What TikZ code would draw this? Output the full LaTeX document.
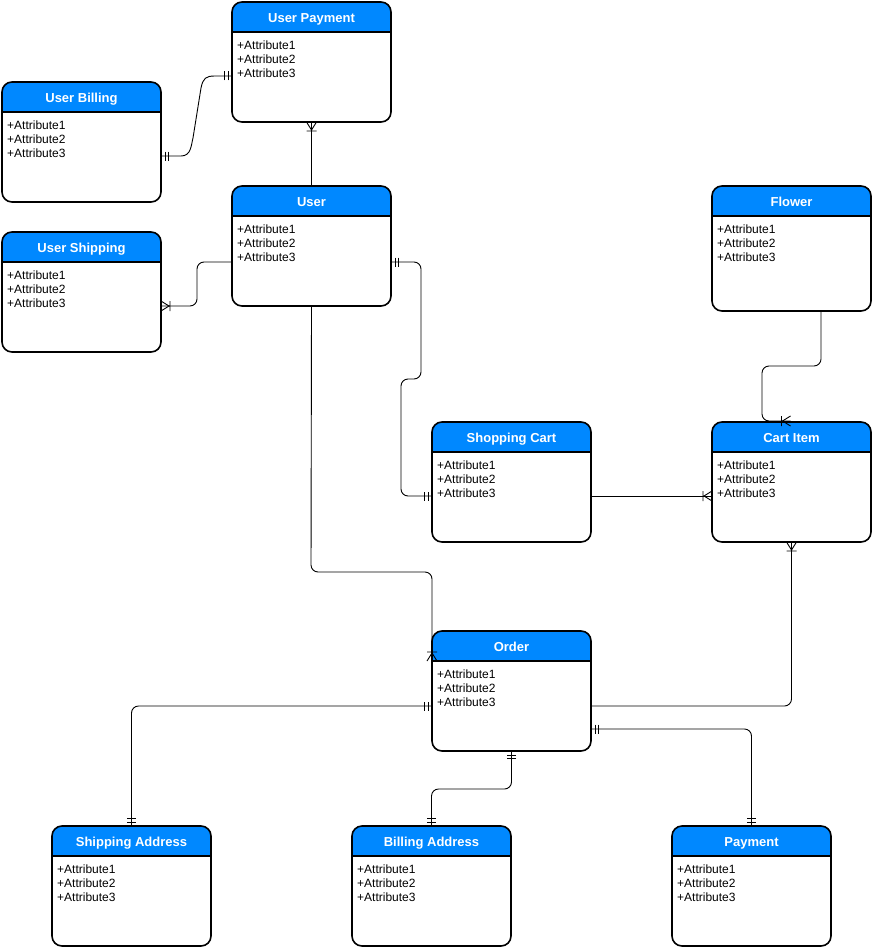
\documentclass[tikz,border=0pt]{standalone}
\usepackage{fontspec}
\setmainfont{Liberation Sans}
\usetikzlibrary{calc}
\definecolor{hdr}{RGB}{0,136,255}
\tikzset{
  ttl/.style={font=\fontsize{13}{15}\selectfont\bfseries, text=white, inner sep=0pt, anchor=base},
  attr/.style={font=\fontsize{12}{14}\selectfont, inner sep=0pt, anchor=base west},
  border/.style={line width=1.6pt, rounded corners=10pt},
  conn/.style={line width=0.9pt, rounded corners=7pt},
  tickln/.style={line width=0.9pt}
}
\newcommand\entbox[5][120]{%
  \node[inner sep=0pt, outer sep=0pt, minimum width=159pt, minimum height=#1pt, anchor=north west] (#2) at (#3,#4) {};
  \begin{scope}
    \clip[rounded corners=10pt] (#2.north west) rectangle (#2.south east);
    \fill[white] (#2.north west) rectangle (#2.south east);
    \fill[hdr] (#2.north west) rectangle ($(#2.north east)+(0,30)$);
  \end{scope}
  \draw[line width=1.6pt] ($(#2.north west)+(0,30)$) -- ($(#2.north east)+(0,30)$);
  \draw[border] (#2.north west) rectangle (#2.south east);
  \node[ttl] at ($(#2.north)+(0,20.5)$) {#5};
  \node[attr] at ($(#2.north west)+(5,47.5)$) {+Attribute1};
  \node[attr] at ($(#2.north west)+(5,61.5)$) {+Attribute2};
  \node[attr] at ($(#2.north west)+(5,75.5)$) {+Attribute3};
}
\newcommand\onlyone[2]{\begin{scope}[shift={(#1)},rotate=#2]\draw[tickln] (4,-4.5) -- (4,4.5) (7.5,-4.5) -- (7.5,4.5);\end{scope}}
\newcommand\onemany[2]{\begin{scope}[shift={(#1)},rotate=#2]\draw[tickln] (0,-5) -- (8,0) -- (0,5) (9,-5) -- (9,5);\end{scope}}
\begin{document}
\begin{tikzpicture}[x=1pt,y=-1pt]
\useasboundingbox (0,0) rectangle (872,947);
\entbox{up}{232}{2}{User Payment}
\entbox{ub}{2}{82}{User Billing}
\entbox{user}{232}{186}{User}
\entbox{us}{2}{232}{User Shipping}
\entbox[125]{flower}{712}{186}{Flower}
\entbox{cart}{432}{422}{Shopping Cart}
\entbox{item}{712}{422}{Cart Item}
\entbox{order}{432}{631}{Order}
\entbox{sa}{52}{826}{Shipping Address}
\entbox{ba}{352}{826}{Billing Address}
\entbox{pay}{672}{826}{Payment}

% 1 User Billing -- User Payment
\coordinate (a1) at ($(ub.north east)+(0,74)$);
\coordinate (b1) at ($(up.north west)+(0,74)$);
\draw[line width=0.9pt] (a1) -- ($(a1)+(20,0)$) .. controls ($(a1)+(30,0)$) and ($(a1)+(30,-10)$) .. ($(a1)+(32,-18)$) -- ($(b1)+(-31,12)$) .. controls ($(b1)+(-29,2)$) and ($(b1)+(-26,0)$) .. ($(b1)+(-17,0)$) -- (b1);
\onlyone{a1}{0}
\onlyone{b1}{180}

% 2 User Payment -- User
\draw[conn] (up.south) -- (user.north);
\onemany{up.south}{-90}

% 3 User -- User Shipping
\coordinate (a3) at ($(user.north west)+(0,76)$);
\coordinate (b3) at ($(us.north east)+(0,74)$);
\draw[conn] (a3) -- ($(a3)+(-35,0)$) |- (b3);
\onemany{b3}{0}

% 4 User -- Shopping Cart
\coordinate (a4) at ($(user.north east)+(0,76)$);
\coordinate (b4) at ($(cart.north west)+(0,74)$);
\draw[conn] (a4) -| (421,379) -- (401,379) |- (b4);
\onlyone{a4}{0}
\onlyone{b4}{180}

% 5 Shopping Cart -- Cart Item
\coordinate (a5) at ($(cart.north east)+(0,74)$);
\coordinate (b5) at ($(item.north west)+(0,74)$);
\draw[conn] (a5) -- (b5);
\onemany{b5}{180}

% 6 Flower -- Cart Item
\coordinate (a6) at ($(flower.south)+(29.5,0)$);
\coordinate (b6) at ($(item.north)+(-1,-1)$);
\draw[conn] (a6) -- (821,366) -- (762,366) |- (b6);
\onemany{b6}{180}

% 7 User -- Order
\coordinate (b7) at ($(order.north west)+(0,30)$);
\draw[conn] (user.south) -- (311,572) -| (b7);
\onemany{b7}{90}

% 8 Order -- Shipping Address
\coordinate (a8) at ($(order.north west)+(0,75)$);
\draw[conn] (a8) -| (sa.north);
\onlyone{a8}{180}
\onlyone{sa.north}{90}

% 9 Order -- Cart Item
\coordinate (a9) at ($(order.north east)+(0,75)$);
\draw[conn] (a9) -| (item.south);
\onemany{item.south}{-90}

% 10 Order -- Billing Address
\draw[conn] (order.south) -- ($(order.south)+(0,38)$) -| (ba.north);
\onlyone{order.south}{-90}
\onlyone{ba.north}{90}

% 11 Order -- Payment
\coordinate (a11) at ($(order.north east)+(0,98)$);
\draw[conn] (a11) -| (pay.north);
\onlyone{a11}{0}
\onlyone{pay.north}{90}
\end{tikzpicture}
\end{document}
